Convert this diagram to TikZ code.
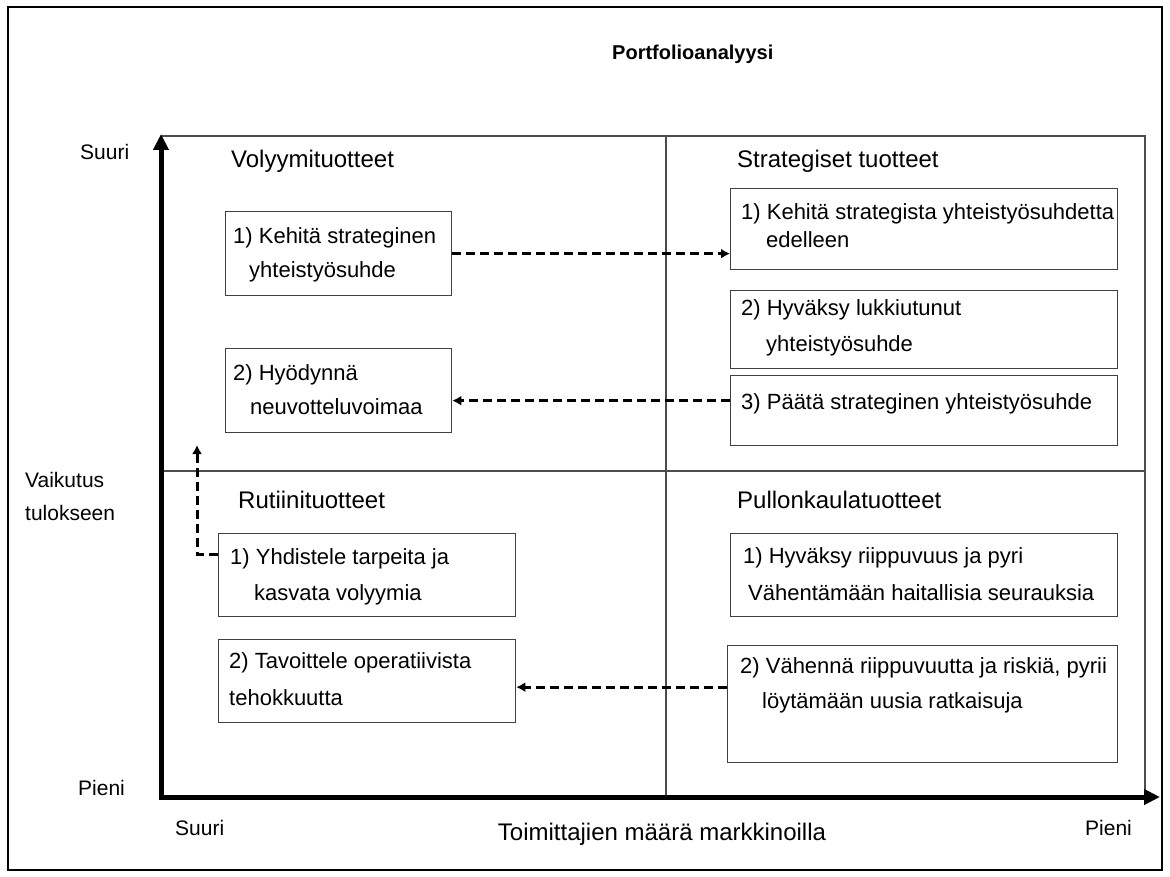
\documentclass[tikz,border=0pt]{standalone}
\usepackage{fontspec}
\setmainfont{Liberation Sans}
\usetikzlibrary{arrows.meta,calc}

\begin{document}
\begin{tikzpicture}[x=1pt,y=-1pt,
  framecol/.style={draw=black!70,line width=1.3pt},
  box/.style={draw=black!75,line width=1.3pt,rectangle,inner sep=0pt,anchor=north west},
  txt/.style={anchor=base west,inner sep=0pt,font=\fontsize{22}{26}\selectfont},
  head/.style={anchor=base west,inner sep=0pt,font=\fontsize{24}{28}\selectfont},
  lab/.style={anchor=base west,inner sep=0pt,font=\fontsize{21}{25}\selectfont},
  axis/.style={line width=5pt,-{Triangle[length=16pt,width=15pt]}},
  dasharrow/.style={line width=3pt,dash pattern=on 9pt off 5pt,-{Latex[length=9pt,width=10pt]}}
]
\useasboundingbox (0,0) rectangle (1170,877);
% outer frame
\draw[line width=2pt] (8,7) rectangle (1162,870);

% title
\node[anchor=base west,inner sep=0pt,font=\bfseries\fontsize{20}{24}\selectfont] (title) at (612,60) {Portfolioanalyysi};

% matrix frame and quadrant lines
\coordinate (o) at (161,797);
\coordinate (tl) at (161,136);
\coordinate (tr) at (1145,136);
\coordinate (br) at (1145,797);
\draw[framecol] (tl) -- (tr) -- (br);
\draw[framecol] (666,136) -- (666,797);
\draw[framecol] (161,471) -- (1145,471);

% axes
\coordinate (ytip) at (161,134);
\coordinate (xtip) at (1160,797);
\draw[axis] ([yshift=2.5pt]o) -- (ytip);
\draw[axis] ([xshift=-2.5pt]o) -- (xtip);

% axis labels
\node[lab] (ysuuri) at (80,160) {Suuri};
\node[lab] (vaik) at (25,487) {Vaikutus};
\node[lab] (tulos) at (25,520) {tulokseen};
\node[lab] (ypieni) at (78,795) {Pieni};
\node[lab] (xsuuri) at (175,835) {Suuri};
\node[anchor=base,inner sep=0pt,font=\fontsize{24}{28}\selectfont] (xlab) at (662,840) {Toimittajien määrä markkinoilla};
\node[lab] (xpieni) at (1085,835) {Pieni};

% quadrant headings
\node[head] (hv) at (231,168) {Volyymituotteet};
\node[head] (hs) at (737,168) {Strategiset tuotteet};
\node[head] (hr) at (238,508) {Rutiinituotteet};
\node[head] (hp) at (737,508) {Pullonkaulatuotteet};

% boxes
\node[box,minimum width=226pt,minimum height=84pt] (v1) at (225,211) {};
\node[box,minimum width=226pt,minimum height=84pt] (v2) at (225,348) {};
\node[box,minimum width=387pt,minimum height=81pt] (s1) at (730,188) {};
\node[box,minimum width=387pt,minimum height=78pt] (s2) at (730,290) {};
\node[box,minimum width=387pt,minimum height=70pt] (s3) at (730,375) {};
\node[box,minimum width=297pt,minimum height=83pt] (r1) at (218,533) {};
\node[box,minimum width=297pt,minimum height=83pt] (r2) at (218,639) {};
\node[box,minimum width=387pt,minimum height=83pt] (p1) at (730,533) {};
\node[box,minimum width=390pt,minimum height=117pt] (p2) at (727,645) {};

% box texts
\node[txt] (v1a) at (233,244) {1) Kehitä strateginen};
\node[txt] (v1b) at (249,278) {yhteistyösuhde};
\node[txt] (v2a) at (233,380) {2) Hyödynnä};
\node[txt] (v2b) at (250,414) {neuvotteluvoimaa};
\node[txt] (s1a) at (741,220) {1) Kehitä strategista yhteistyösuhdetta};
\node[txt] (s1b) at (766,248) {edelleen};
\node[txt] (s2a) at (741,316) {2) Hyväksy lukkiutunut};
\node[txt] (s2b) at (766,351) {yhteistyösuhde};
\node[txt] (s3a) at (741,409) {3) Päätä strateginen yhteistyösuhde};
\node[txt] (r1a) at (230,564) {1) Yhdistele tarpeita ja};
\node[txt] (r1b) at (254,600) {kasvata volyymia};
\node[txt] (r2a) at (229,668) {2) Tavoittele operatiivista};
\node[txt] (r2b) at (229,705) {tehokkuutta};
\node[txt] (p1a) at (743,563) {1) Hyväksy riippuvuus ja pyri};
\node[txt] (p1b) at (748,600) {Vähentämään haitallisia seurauksia};
\node[txt] (p2a) at (740,673) {2) Vähennä riippuvuutta ja riskiä, pyrii};
\node[txt] (p2b) at (762,708) {löytämään uusia ratkaisuja};

% dashed connectors
\coordinate (elb) at (197,445);
\draw[dasharrow] (v1.east) -- (v1.east -| s1.west);
\draw[dasharrow] ([yshift=10pt]s3.west) -- ([yshift=10pt]s3.west -| v2.east);
\draw[dasharrow] ([yshift=17pt]p2.west) -- ([yshift=17pt]p2.west -| r2.east);
\draw[dasharrow] ([yshift=21pt]r1.west) -| (elb);
\end{tikzpicture}
\end{document}
